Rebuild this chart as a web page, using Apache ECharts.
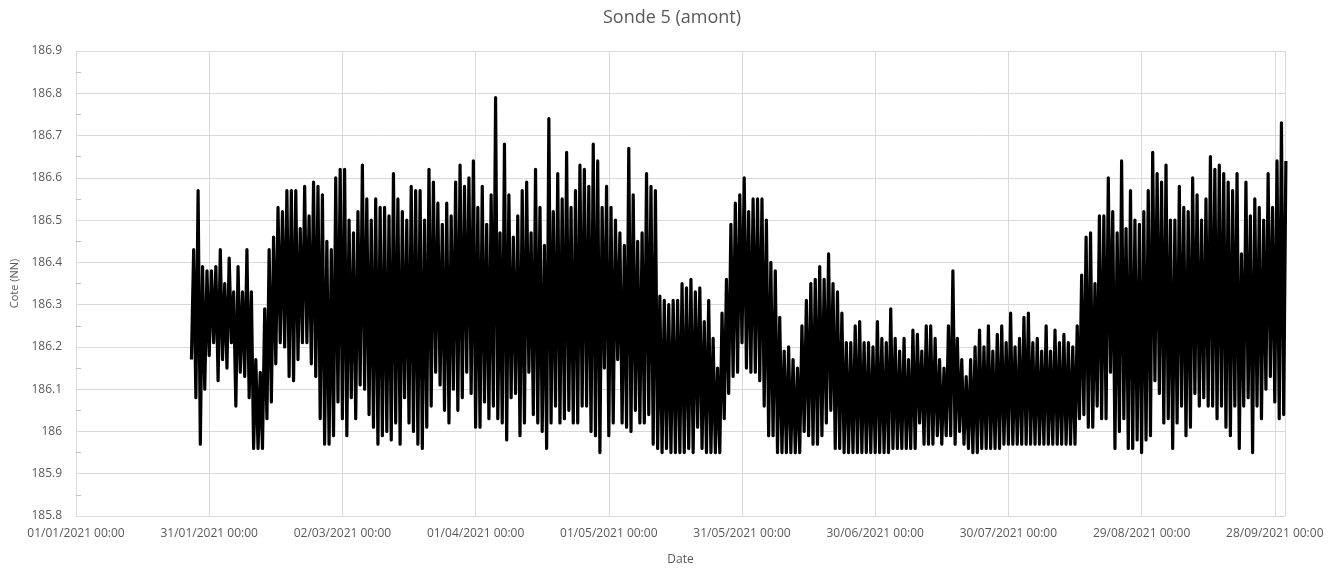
<!DOCTYPE html>
<html>
<head>
<meta charset="utf-8">
<script src="https://cdn.jsdelivr.net/npm/echarts@6/dist/echarts.min.js"></script>
<style>
html,body{margin:0;padding:0;background:#fff;}
#chart{width:1344px;height:571px;}
</style>
</head>
<body>
<div id="chart"></div>
<script>
// Day offset (from 01/01/2021 00:00) of the first daily reading
const firstDay = 26;
// Daily maxima (Cote NN), one per day from day 26
const dailyHigh = [
186.43,186.57,186.39,186.38,186.38,186.39,186.43,186.35,186.41,186.33,
186.39,186.33,186.43,186.33,186.17,186.14,186.29,186.43,186.46,186.53,
186.52,186.57,186.57,186.57,186.48,186.58,186.51,186.59,186.58,186.56,
186.45,186.43,186.60,186.62,186.62,186.50,186.47,186.52,186.63,186.55,
186.50,186.55,186.53,186.53,186.51,186.61,186.55,186.52,186.50,186.58,
186.57,186.57,186.50,186.62,186.59,186.54,186.49,186.54,186.51,186.59,
186.63,186.58,186.60,186.64,186.53,186.58,186.49,186.56,186.79,186.47,
186.68,186.56,186.46,186.51,186.57,186.59,186.47,186.62,186.53,186.44,
186.74,186.52,186.61,186.55,186.66,186.53,186.57,186.63,186.62,186.58,
186.68,186.64,186.53,186.58,186.53,186.50,186.47,186.44,186.67,186.56,
186.45,186.47,186.61,186.58,186.57,186.32,186.31,186.30,186.31,186.31,
186.35,186.34,186.36,186.33,186.34,186.26,186.31,186.22,186.15,186.28,
186.36,186.49,186.54,186.56,186.60,186.52,186.55,186.55,186.55,186.50,
186.40,186.38,186.27,186.19,186.20,186.17,186.15,186.25,186.31,186.35,
186.36,186.39,186.36,186.42,186.35,186.33,186.28,186.21,186.21,186.25,
186.26,186.21,186.21,186.20,186.26,186.22,186.21,186.29,186.22,186.19,
186.22,186.17,186.24,186.23,186.19,186.25,186.25,186.22,186.17,186.15,
186.25,186.38,186.22,186.17,186.13,186.17,186.20,186.24,186.20,186.25,
186.19,186.23,186.25,186.21,186.28,186.20,186.22,186.27,186.28,186.21,
186.22,186.19,186.25,186.19,186.24,186.21,186.23,186.21,186.20,186.25,
186.37,186.46,186.47,186.35,186.51,186.51,186.60,186.52,186.47,186.64,
186.48,186.57,186.50,186.49,186.52,186.57,186.66,186.61,186.59,186.63,
186.50,186.50,186.58,186.53,186.52,186.60,186.56,186.50,186.55,186.65,
186.62,186.63,186.61,186.59,186.57,186.61,186.42,186.59,186.51,186.55,
186.53,186.50,186.61,186.53,186.64,186.73,186.64
];
// Daily minima (Cote NN), one per day from day 26
const dailyLow = [
186.17,186.08,185.97,186.10,186.18,186.21,186.12,186.17,186.15,186.21,
186.06,186.14,186.13,186.08,185.96,185.96,185.96,186.03,186.07,186.16,
186.21,186.20,186.13,186.12,186.17,186.21,186.21,186.16,186.13,186.03,
185.97,185.97,185.99,186.07,186.03,185.99,186.08,186.03,186.11,186.10,
186.04,186.01,185.97,185.99,186.00,185.98,186.02,185.97,186.08,186.02,
186.00,185.97,185.96,186.01,186.06,186.14,186.11,186.05,186.02,186.10,
186.05,186.08,186.14,186.09,186.01,186.01,186.07,186.03,186.06,186.03,
186.02,185.98,186.08,186.09,185.99,186.02,186.14,186.04,186.02,186.00,
185.96,186.02,186.06,186.02,186.03,186.05,186.02,186.02,186.06,186.06,
186.00,185.99,185.95,186.15,185.99,186.02,186.17,186.02,186.01,186.00,
186.05,186.02,186.02,186.04,185.97,185.96,185.95,185.96,185.95,185.95,
185.95,185.95,185.96,185.95,186.01,185.96,185.95,185.95,185.95,185.95,
186.03,186.09,186.13,186.14,186.21,186.15,186.14,186.14,186.12,186.06,
185.99,185.99,185.95,185.95,185.95,185.95,185.95,185.95,186.00,185.99,
185.97,185.97,185.99,186.02,186.05,185.96,185.96,185.95,185.95,185.95,
185.95,185.95,185.95,185.95,185.95,185.95,185.95,185.95,185.96,185.96,
185.96,185.96,185.96,185.96,186.02,185.97,185.97,185.97,185.99,185.97,
185.99,185.99,185.97,186.00,185.97,185.96,185.95,185.95,185.96,185.96,
185.96,185.96,185.96,185.97,185.97,185.97,185.97,185.97,185.97,185.97,
185.97,185.97,185.97,185.97,185.97,185.97,185.97,185.97,185.97,185.97,
186.03,186.04,186.01,186.01,186.06,186.03,186.03,186.14,185.96,186.00,
186.03,185.96,185.96,185.98,185.95,185.98,185.99,186.12,186.09,186.02,
186.03,185.96,186.02,186.06,185.99,186.01,186.09,186.06,186.08,186.06,
186.06,186.03,186.06,186.01,185.99,186.06,185.96,186.06,186.08,185.95,
186.06,186.03,186.10,186.13,186.07,186.03,186.04
];
// Axis settings
const yTicks = {min: 185.8, max: 186.9, step: 0.1};
const xTicks = {min: 0, max: 272.3, step: 30}; // in days from 01/01/2021
const titleText = 'Sonde 5 (amont)';
const yName = 'Cote (NN)';
const xName = 'Date';

// Build the line: daily low at day start, daily high at mid-day
const seriesData = [];
for (let i = 0; i < dailyHigh.length; i++) {
  const d = firstDay + i;
  seriesData.push([d, dailyLow[i]]);
  seriesData.push([d + 0.5, dailyHigh[i]]);
}

const base = Date.UTC(2021, 0, 1);
function pad(n){ return (n < 10 ? '0' : '') + n; }
function dayLabel(v){
  const dt = new Date(base + Math.round(v) * 86400000);
  return pad(dt.getUTCDate()) + '/' + pad(dt.getUTCMonth() + 1) + '/' + dt.getUTCFullYear() + ' 00:00';
}

const FONT = 'Open Sans';
const GRAY = '#595959';
const GRID = '#d9d9d9';

const chart = echarts.init(document.getElementById('chart'), null, {renderer: 'canvas'});
chart.setOption({
  animation: false,
  backgroundColor: '#ffffff',
  title: {
    text: titleText,
    left: 'center',
    top: 4,
    textStyle: {fontFamily: FONT, fontSize: 18, fontWeight: 'normal', color: GRAY}
  },
  grid: {left: 76, right: 59, top: 51, bottom: 55, containLabel: false},
  xAxis: {
    type: 'value',
    min: xTicks.min,
    max: xTicks.max,
    interval: xTicks.step,
    name: xName,
    nameLocation: 'middle',
    nameGap: 38,
    nameTextStyle: {fontFamily: FONT, fontSize: 12, color: GRAY},
    axisLine: {show: true, lineStyle: {color: GRID, width: 1}},
    axisTick: {show: false},
    axisLabel: {
      fontFamily: FONT, fontSize: 12, color: GRAY, margin: 12,
      showMaxLabel: false,
      formatter: dayLabel
    },
    splitLine: {show: true, lineStyle: {color: GRID, width: 1}}
  },
  yAxis: {
    type: 'value',
    min: yTicks.min,
    max: yTicks.max,
    interval: yTicks.step,
    name: yName,
    nameLocation: 'middle',
    nameGap: 56,
    nameRotate: 90,
    nameTextStyle: {fontFamily: FONT, fontSize: 11, color: GRAY},
    axisLine: {show: true, lineStyle: {color: GRID, width: 1}},
    axisTick: {show: false, inside: true},
    minorTick: {show: true, splitNumber: 2, length: 5, lineStyle: {color: '#bfbfbf', width: 1}},
    axisLabel: {
      fontFamily: FONT, fontSize: 12, color: GRAY, margin: 14,
      formatter: function(v){ return String(Math.round(v * 10) / 10); }
    },
    splitLine: {show: true, lineStyle: {color: GRID, width: 1}}
  },
  series: [{
    type: 'line',
    data: seriesData,
    showSymbol: false,
    symbol: 'none',
    lineStyle: {color: '#000000', width: 3.2, join: 'round'},
    itemStyle: {color: '#000000'},
    sampling: null,
    z: 3
  }]
});
</script>
</body>
</html>
